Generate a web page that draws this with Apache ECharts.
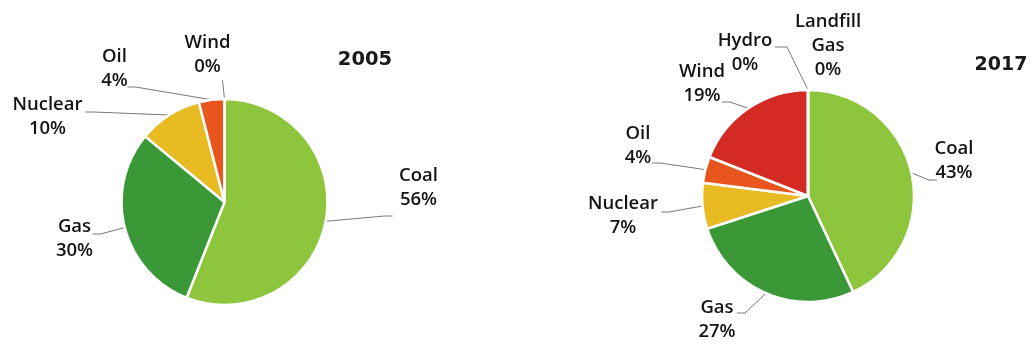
<!DOCTYPE html>
<html>
<head>
<meta charset="utf-8">
<script src="https://cdn.jsdelivr.net/npm/echarts@6/dist/echarts.min.js"></script>
<style>
  html, body { margin: 0; padding: 0; background: #ffffff; }
  #chart { width: 1033px; height: 345px; }
</style>
</head>
<body>
<div id="chart"></div>
<script>
// Electricity generation by source, share of total (%)
const years = ['2005', '2017'];

const sources2005 = ['Coal', 'Gas', 'Nuclear', 'Oil', 'Wind'];
const share2005 = [56, 30, 10, 4, 0];

const sources2017 = ['Coal', 'Gas', 'Nuclear', 'Oil', 'Wind', 'Hydro', 'Landfill Gas'];
const share2017 = [43, 27, 7, 4, 19, 0, 0];

// Slice colours per source
const sourceColors = {
  'Coal': '#8dc53d',
  'Gas': '#3a9836',
  'Nuclear': '#e8bb22',
  'Oil': '#e8551d',
  'Wind': '#d42a24',
  'Hydro': '#3a7fc0',
  'Landfill Gas': '#8a6a9e'
};

// Pie geometry
const pieCentres = [[224.5, 202], [808, 196]];
const pieRadii = [103, 106];

// Label placement: offset of each label's centre from its pie centre,
// and where its leader line ends, relative to the label centre.
const labelPlacement = [
  {
    'Coal':    { at: [194, -14],   end: [-26, 28] },
    'Gas':     { at: [-150, 37],   end: [18, -5] },
    'Nuclear': { at: [-177, -85],  end: [38, -5] },
    'Oil':     { at: [-110, -133], end: [13, 18] },
    'Wind':    { at: [-17, -147],  end: [15, 25], kink: 0 }
  },
  {
    'Coal':         { at: [146, -35],   end: [-17, 19] },
    'Gas':          { at: [-91, 124],   end: [20, -7] },
    'Nuclear':      { at: [-185, 20],   end: [38, -4] },
    'Oil':          { at: [-170, -50],  end: [14, 17] },
    'Wind':         { at: [-106, -112], end: [20, 18] },
    'Hydro':        { at: [-63, -143],  end: [30, -6], kink: 12 },
    'Landfill Gas': { at: [20, -150] }
  }
];

const chart = echarts.init(document.getElementById('chart'), null, { renderer: 'canvas' });

function labelText(p) {
  return p.name.replace(' ', '\n') + '\n' + p.value + '%';
}

function placeLabel(seriesIdx, names, p) {
  const centre = pieCentres[seriesIdx];
  const place = labelPlacement[seriesIdx][names[p.dataIndex]];
  const x = centre[0] + place.at[0];
  const y = centre[1] + place.at[1];
  const out = { x: x, y: y, align: 'center', verticalAlign: 'middle' };
  const pts = p.labelLinePoints;
  if (pts && place.end) {
    const ex = x + place.end[0];
    const ey = y + place.end[1];
    const start = pts[0];
    const kink = place.kink != null ? place.kink : 8;
    const dir = Math.sign(start[0] - ex) || 1;
    out.labelLinePoints = [start, [ex + dir * kink, ey], [ex, ey]];
  }
  return out;
}

function pieSeries(seriesIdx, names, values) {
  return {
    type: 'pie',
    name: years[seriesIdx],
    center: pieCentres[seriesIdx],
    radius: pieRadii[seriesIdx],
    startAngle: 90,
    clockwise: true,
    avoidLabelOverlap: false,
    animation: false,
    silent: true,
    itemStyle: { borderColor: '#ffffff', borderWidth: 2.5 },
    label: {
      show: true,
      position: 'outside',
      formatter: labelText,
      color: '#141414',
      fontFamily: 'Open Sans',
      fontWeight: 600,
      fontSize: 18.5,
      lineHeight: 24,
      align: 'center'
    },
    labelLine: {
      show: true,
      length: 10,
      length2: 10,
      lineStyle: { color: '#7a7a7a', width: 1 }
    },
    emphasis: { disabled: true },
    labelLayout: function (p) { return placeLabel(seriesIdx, names, p); },
    data: names.map(function (n, i) {
      const item = { name: n, value: values[i], itemStyle: { color: sourceColors[n] } };
      if (!labelPlacement[seriesIdx][n].end) item.labelLine = { show: false };
      return item;
    })
  };
}

chart.setOption({
  backgroundColor: '#ffffff',
  animation: false,
  graphic: [
    {
      type: 'text', x: 365, y: 60,
      style: { text: years[0], align: 'center', verticalAlign: 'middle',
               font: 'bold 19.5px "DejaVu Sans"', fill: '#1a1a1a' }
    },
    {
      type: 'text', x: 1001, y: 65,
      style: { text: years[1], align: 'center', verticalAlign: 'middle',
               font: 'bold 19px "DejaVu Sans"', fill: '#1a1a1a' }
    }
  ],
  series: [
    pieSeries(0, sources2005, share2005),
    pieSeries(1, sources2017, share2017)
  ]
});
</script>
</body>
</html>
